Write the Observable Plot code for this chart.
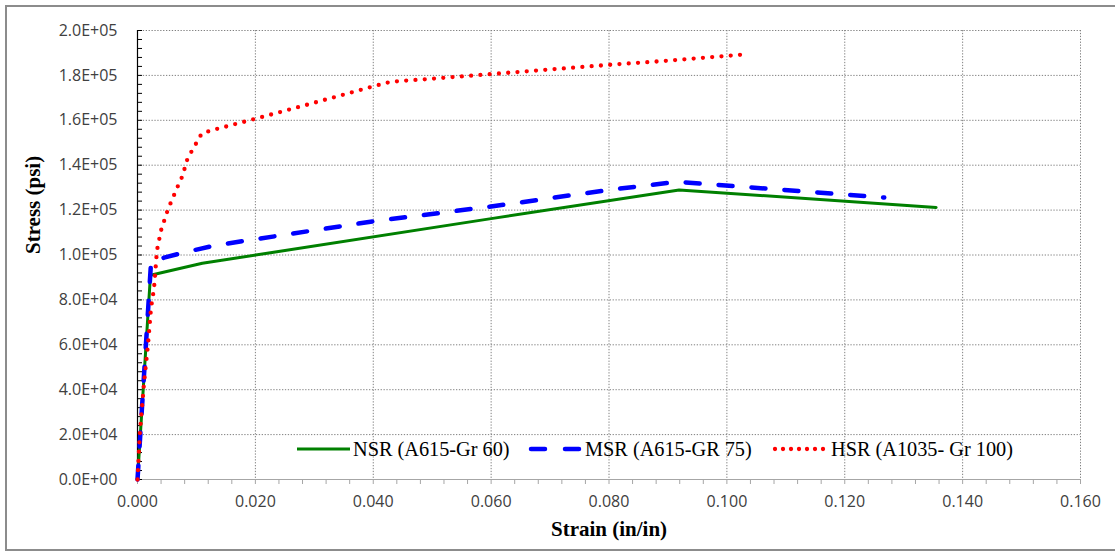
<!DOCTYPE html>
<html><head><meta charset="utf-8">
<script src="https://cdn.jsdelivr.net/npm/d3@7"></script>
<script src="https://cdn.jsdelivr.net/npm/@observablehq/plot@0.6"></script>
<style>
html,body{margin:0;padding:0;background:#fff;overflow:hidden;}
#wrap{position:relative;width:1115px;height:554px;overflow:hidden;}
#border{position:absolute;left:5px;top:5px;width:1125px;height:546px;border:2px solid #8c8c8c;box-sizing:border-box;}
#wrap svg{position:absolute;left:0;top:0;}
</style></head><body><div id="wrap"><div id="border"></div></div>
<script>
// ---- data ----
const seriesNames = ["NSR (A615-Gr 60)", "MSR (A615-GR 75)", "HSR (A1035- Gr 100)"];

const nsrStrain = [0, 0.0022, 0.011, 0.06, 0.0919, 0.1355];
const nsrStress = [0, 91000, 96300, 116200, 129000, 121200];

const msrStrain = [0, 0.0023, 0.0045, 0.008, 0.0132, 0.04, 0.06, 0.08, 0.0915, 0.1267];
const msrStress = [0, 96800, 98800, 101200, 104300, 115000, 121600, 129000, 132600, 125600];

const hsrStrain = [0, 0.0004, 0.0011, 0.0018, 0.0023, 0.0028, 0.0033, 0.004, 0.005, 0.0056, 0.0069, 0.0076, 0.0085, 0.0109, 0.0125, 0.0189, 0.0283, 0.0393, 0.0424, 0.0441, 0.0489, 0.08, 0.0898, 0.1028];
const hsrStress = [0, 20500, 42800, 60600, 76600, 85000, 102000, 111000, 119000, 123000, 131000, 135000, 143000, 154100, 155500, 159900, 166600, 174600, 176800, 177400, 178300, 184700, 186500, 189300];

const xTicks = [0, 0.02, 0.04, 0.06, 0.08, 0.10, 0.12, 0.14, 0.16];
const xMinorTicks = d3.range(0, 41).map(i => i * 0.004);
const yTicks = [0, 20000, 40000, 60000, 80000, 100000, 120000, 140000, 160000, 180000, 200000];
const yMinorTicks = d3.range(0, 51).map(i => i * 4000);

const xLabel = "Strain (in/in)";
const yLabel = "Stress (psi)";

// ---- styles ----
const colors = ["#008000", "#0000ff", "#ff0000"];

const strains = [nsrStrain, msrStrain, hsrStrain];
const stresses = [nsrStress, msrStress, hsrStress];
const rows = [];
seriesNames.forEach((n, i) => strains[i].forEach((s, j) => rows.push({series: n, strain: s, stress: stresses[i][j]})));
const of = n => rows.filter(r => r.series === n);

const sci = v => {
  if (v === 0) return "0.0E+00";
  const e = Math.floor(Math.log10(v));
  return (v / 10 ** e).toFixed(1) + "E+" + String(e).padStart(2, "0");
};

const grid = {stroke: "#808080", strokeOpacity: 1, strokeWidth: 1, strokeDasharray: "1.3,1.6"};

const chart = Plot.plot({
  width: 1115, height: 554,
  marginLeft: 137, marginRight: 35, marginTop: 30, marginBottom: 75,
  x: {domain: [0, 0.16]},
  y: {domain: [0, 200000]},
  style: {fontFamily: "'Open Sans'", fontSize: "16px", color: "#404040", background: "transparent", overflow: "visible"},
  marks: [
    Plot.gridX(xTicks.slice(1), grid),
    Plot.gridY(yTicks.slice(1), grid),
    Plot.axisX(xMinorTicks, {tickSize: 5, tickFormat: () => "", stroke: "#a6a6a6", label: null}),
    Plot.ruleY([0], {stroke: "#a6a6a6", strokeWidth: 1.2}),
    Plot.axisX(xTicks, {tickSize: 0, tickPadding: 16, tickFormat: d3.format(".3f"), label: null}),
    Plot.axisY(yTicks, {tickSize: 0, tickPadding: 20, tickFormat: sci, label: null}),
    Plot.axisY(yMinorTicks, {anchor: "left", tickSize: 5, dx: 5, tickFormat: () => "", stroke: "#000", label: null}),
    Plot.ruleX([0], {stroke: "#000", strokeWidth: 1.2}),
    Plot.line(of(seriesNames[0]), {x: "strain", y: "stress", stroke: colors[0], strokeWidth: 3}),
    Plot.line(of(seriesNames[1]), {x: "strain", y: "stress", stroke: colors[1], strokeWidth: 4.5, strokeDasharray: "14,19", strokeLinecap: "round"}),
    Plot.line(of(seriesNames[2]), {x: "strain", y: "stress", stroke: colors[2], strokeWidth: 4.3, strokeDasharray: "0,9.3", strokeLinecap: "round"}),
    Plot.text([xLabel], {frameAnchor: "bottom", dy: 56, fontFamily: "'Liberation Serif'", fontWeight: "bold", fontSize: 21, fill: "#000"}),
    Plot.text([yLabel], {frameAnchor: "left", dx: -104, dy: -1, rotate: -90, fontFamily: "'Liberation Serif'", fontWeight: "bold", fontSize: 21, fill: "#000"})
  ]
});
document.getElementById("wrap").appendChild(chart);

// ---- legend (inside the plot area) ----
const leg = d3.select("#wrap").append("svg").attr("width", 1115).attr("height", 554);
const items = [
  {x1: 297, x2: 350, tx: 353, dash: null, w: 3, cap: "butt"},
  {x1: 531, x2: 580, tx: 585, dash: "14,20", w: 4.5, cap: "round"},
  {x1: 775, x2: 823.5, tx: 831, dash: "0,8", w: 4.3, cap: "round"}
];
items.forEach((it, i) => {
  leg.append("line").attr("x1", it.x1).attr("x2", it.x2).attr("y1", 449).attr("y2", 449)
    .attr("stroke", colors[i]).attr("stroke-width", it.w).attr("stroke-linecap", it.cap)
    .attr("stroke-dasharray", it.dash);
  leg.append("text").attr("x", it.tx).attr("y", 456).attr("font-family", "'Liberation Serif'")
    .attr("font-size", 20.3).attr("fill", "#000").text(seriesNames[i]);
});
</script>
</body></html>
